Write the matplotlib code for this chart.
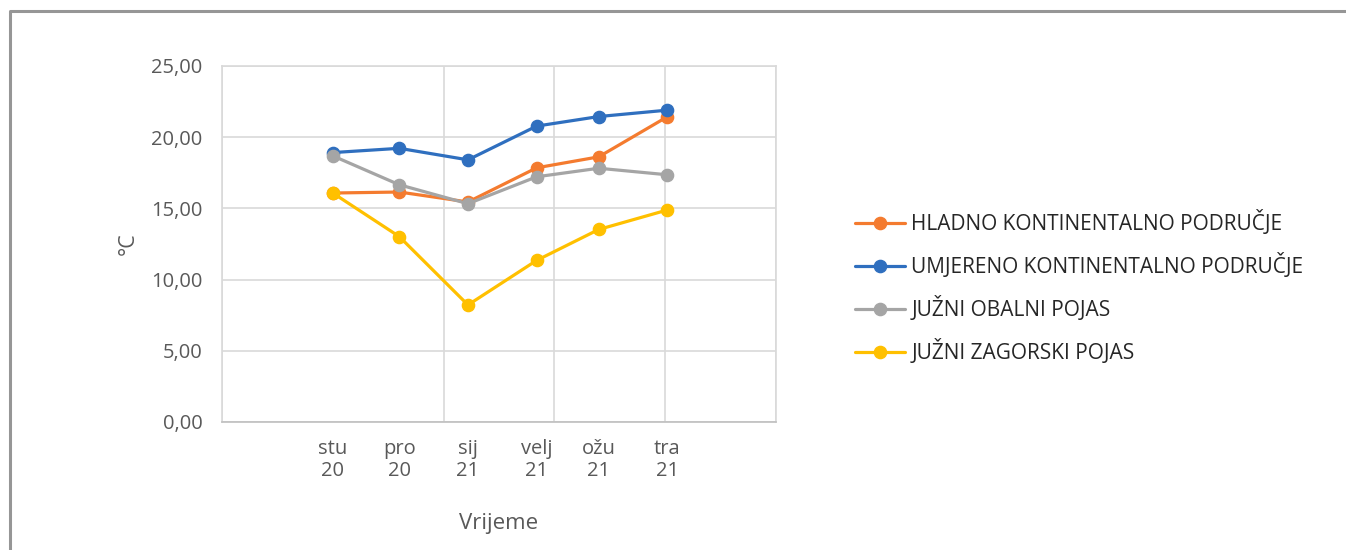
import datetime as dt
import matplotlib
matplotlib.use("Agg")
import matplotlib.pyplot as plt
from matplotlib.lines import Line2D

plt.rcParams['font.family'] = ['Open Sans', 'DejaVu Sans']

# ---- data ----
dates = [dt.date(2020, 11, 1), dt.date(2020, 12, 1), dt.date(2021, 1, 1),
         dt.date(2021, 2, 1), dt.date(2021, 3, 1), dt.date(2021, 4, 1)]
tick_labels = ["stu\n20", "pro\n20", "sij\n21", "velj\n21", "ožu\n21", "tra\n21"]

hladno = [16.08, 16.15, 15.45, 17.85, 18.62, 21.44]
umjereno = [18.92, 19.22, 18.41, 20.78, 21.45, 21.90]
juzni_obalni = [18.69, 16.66, 15.33, 17.22, 17.82, 17.36]
juzni_zagorski = [16.08, 13.02, 8.22, 11.35, 13.52, 14.89]

series_names = ["HLADNO KONTINENTALNO PODRUČJE", "UMJERENO KONTINENTALNO PODRUČJE",
                "JUŽNI OBALNI POJAS", "JUŽNI ZAGORSKI POJAS"]
series_values = [hladno, umjereno, juzni_obalni, juzni_zagorski]
colors = ["#F47B2F", "#2F6FBF", "#A5A5A5", "#FFC000"]

W, H = 1346, 550
fig = plt.figure(figsize=(W / 100, H / 100), dpi=100)
fig.patch.set_facecolor("white")

ax = fig.add_axes([222 / W, 1 - 422 / H, (776 - 222) / W, (422 - 66) / H])

order = [2, 3, 0, 1]
handles = {}
for i in order:
    ln, = ax.plot(dates, series_values[i], color=colors[i], lw=2.3, marker='o',
                  markersize=8.8, label=series_names[i], solid_capstyle='round',
                  zorder=3 + i)
    handles[i] = ln

start = dates[0] - dt.timedelta(days=50)
end = dates[0] + dt.timedelta(days=200)
ax.set_xlim(start, end)
ax.set_ylim(0, 25)

ax.set_xticks(dates)
ax.set_xticklabels(tick_labels)
grid_pos = [dates[0] + dt.timedelta(days=50 * k) for k in range(-1, 5)]
ax.set_xticks(grid_pos, minor=True)
ax.set_yticks([0, 5, 10, 15, 20, 25])
ax.set_yticklabels([f"{v:.2f}".replace(".", ",") for v in [0, 5, 10, 15, 20, 25]])

ax.grid(False)
ax.grid(True, which='minor', axis='x', color="#D9D9D9", lw=1.2)
ax.grid(True, which='major', axis='y', color="#D9D9D9", lw=1.2)
ax.set_axisbelow(True)
for s in ax.spines.values():
    s.set_color("#D9D9D9")
    s.set_linewidth(1.2)
ax.spines['bottom'].set_color("#BFBFBF")

ax.tick_params(which='both', length=0)
ax.tick_params(axis='y', labelsize=14.5, labelcolor="#595959", pad=14)
ax.tick_params(axis='x', labelsize=14.5, labelcolor="#595959", pad=12)
for t in ax.get_xticklabels():
    t.set_linespacing(1.15)

ax.set_xlabel("Vrijeme", fontsize=16, color="#595959", labelpad=23)
ax.set_ylabel("°C", fontsize=15.5, color="#595959", labelpad=9)

leg = fig.legend([handles[i] for i in range(4)], series_names,
                 loc='upper left', bbox_to_anchor=(855 / W, 1 - 210 / H),
                 frameon=False, fontsize=15, handlelength=2.4, handletextpad=0.3,
                 labelspacing=0.87, borderaxespad=0, borderpad=0)
for t in leg.get_texts():
    t.set_color("#262626")

# outer chart border (partially visible)
fig.add_artist(Line2D([10 / W, 10 / W, 1.0], [0.0, 1 - 11 / H, 1 - 11 / H],
                      transform=fig.transFigure, color="#969696", lw=2.2))

fig.savefig("out.png", dpi=100, facecolor="white")
